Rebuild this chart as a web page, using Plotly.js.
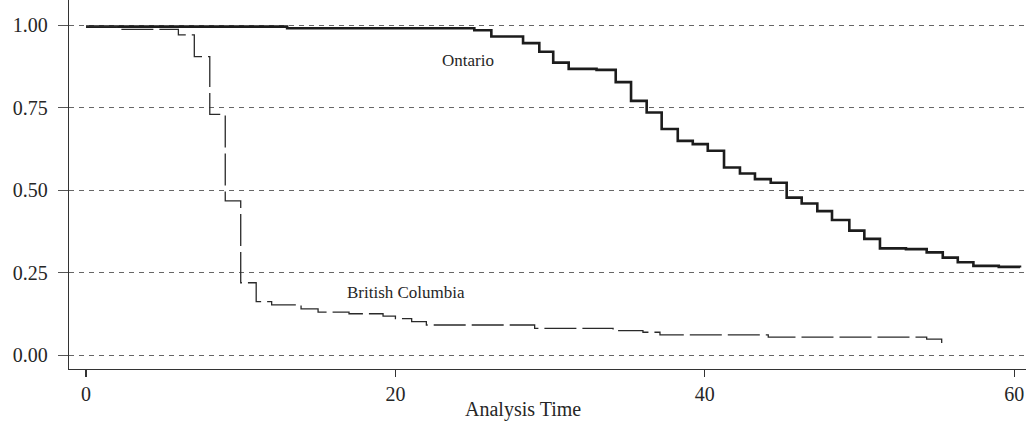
<!DOCTYPE html>
<html>
<head>
<meta charset="utf-8">
<script src="https://cdn.plot.ly/plotly-3.0.1.min.js"></script>
<style>html,body{margin:0;padding:0;background:#fff;}#chart{width:1026px;height:425px;}</style>
</head>
<body>
<div id="chart"></div>
<script>
// Ontario survivor function (step values)
var ontarioTime = [0, 13.0, 25.1, 26.2, 28.25, 29.3, 30.2, 31.2, 33.0, 34.24, 35.23, 36.24, 37.21, 38.25, 39.22, 40.19, 41.24, 42.27, 43.24, 44.26, 45.29, 46.26, 47.27, 48.22, 49.34, 50.31, 51.32, 53.0, 54.34, 55.38, 56.35, 57.36, 59.0, 60.37];
var ontarioSurv = [0.995, 0.990, 0.984, 0.965, 0.945, 0.919, 0.886, 0.867, 0.864, 0.827, 0.770, 0.735, 0.685, 0.649, 0.639, 0.619, 0.568, 0.550, 0.533, 0.522, 0.477, 0.459, 0.436, 0.409, 0.377, 0.352, 0.323, 0.321, 0.311, 0.295, 0.281, 0.270, 0.267, 0.265];

// British Columbia survivor function
var bcTime = [0, 2.0, 5.97, 7.0, 8.0, 9.0, 10.0, 11.0, 12.0, 13.9, 15.0, 17.0, 19.2, 20.0, 21.05, 22.0, 29.0, 34.07, 36.0, 37.1, 44.1, 54.34, 55.31];
var bcSurv = [0.995, 0.987, 0.970, 0.904, 0.729, 0.467, 0.219, 0.162, 0.152, 0.140, 0.130, 0.125, 0.118, 0.110, 0.101, 0.091, 0.081, 0.074, 0.069, 0.061, 0.054, 0.048, 0.035];

var xTicks = [0, 20, 40, 60];
var yTicks = [0, 0.25, 0.5, 0.75, 1];
var yTickText = ["0.00", "0.25", "0.50", "0.75", "1.00"];

var seriesLabels = ["Ontario", "British Columbia"];
var xAxisLabel = "Analysis Time";

var FONT = "Liberation Serif, Times New Roman, serif";

var traces = [
  {x: ontarioTime, y: ontarioSurv, type: "scatter", mode: "lines", name: seriesLabels[0],
   line: {shape: "hv", color: "#1c1c1c", width: 2.6}},
  {x: bcTime, y: bcSurv, type: "scatter", mode: "lines", name: seriesLabels[1],
   line: {shape: "hv", color: "#2a2a2a", width: 1.3, dash: "32px,6px"}}
];

var layout = {
  width: 1026, height: 425,
  margin: {l: 69, r: 0, t: 0, b: 56, pad: 0},
  paper_bgcolor: "#fff", plot_bgcolor: "#fff",
  showlegend: false,
  font: {family: FONT, size: 20, color: "#262626"},
  xaxis: {
    range: [-1.1, 60.76], tickvals: xTicks, ticktext: xTicks.map(String),
    showgrid: false, zeroline: false, showline: true, linecolor: "#333", linewidth: 1.3,
    ticks: "outside", ticklen: 7, tickcolor: "#333", tickwidth: 1.2,
    tickfont: {family: FONT, size: 20, color: "#262626"}
  },
  yaxis: {
    range: [-0.0424, 1.0758], tickvals: yTicks, ticktext: yTickText,
    showgrid: true, gridcolor: "#666", griddash: "5px,5px", gridwidth: 1,
    zeroline: false, showline: true, linecolor: "#333", linewidth: 1.3,
    ticks: "outside", ticklen: 10, tickcolor: "#555", tickwidth: 1,
    ticklabelstandoff: 6,
    tickfont: {family: FONT, size: 20, color: "#262626"}
  },
  annotations: [
    {x: 24.7, y: 0.891, xref: "x", yref: "y", text: seriesLabels[0], showarrow: false,
     font: {family: FONT, size: 17, color: "#262626"}, xanchor: "center", yanchor: "middle"},
    {x: 16.74, y: 0.188, xref: "x", yref: "y", text: seriesLabels[1], showarrow: false,
     font: {family: FONT, size: 17, color: "#262626"}, xanchor: "left", yanchor: "middle"},
    {x: 28.25, y: -0.111, xref: "x", yref: "paper", text: xAxisLabel, showarrow: false,
     font: {family: FONT, size: 20, color: "#262626"}, xanchor: "center", yanchor: "middle"}
  ]
};

Plotly.newPlot("chart", traces, layout, {staticPlot: true, displayModeBar: false});
</script>
</body>
</html>
